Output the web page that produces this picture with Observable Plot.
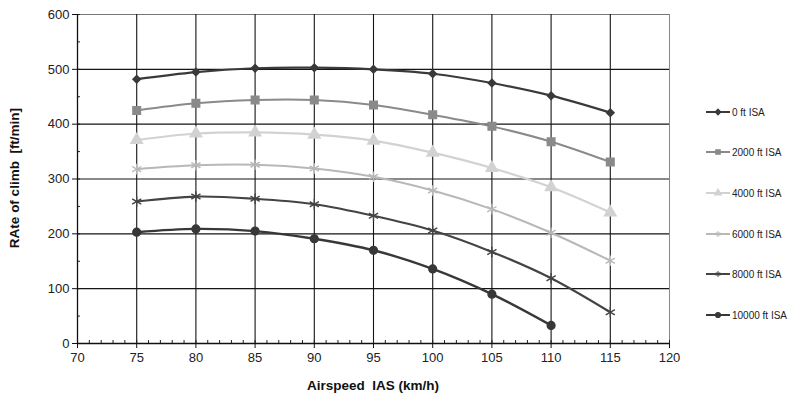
<!DOCTYPE html>
<html>
<head>
<meta charset="utf-8">
<script src="https://cdn.jsdelivr.net/npm/d3@7"></script>
<script src="https://cdn.jsdelivr.net/npm/@observablehq/plot@0.6"></script>
<style>
  html, body { margin: 0; padding: 0; background: #fff; }
  #wrap { position: relative; width: 797px; height: 400px; font-family: Arial, "Liberation Sans", sans-serif; }
  #legend { position: absolute; left: 706px; top: 0; }
  .entry { position: absolute; left: 0; display: flex; align-items: center; white-space: nowrap; font-size: 10px; color: #222; }
  .entry svg { margin-right: 2px; }
</style>
</head>
<body>
<div id="wrap"><div id="legend"></div></div>
<script>
// ---- data ----
const airspeed = [75, 80, 85, 90, 95, 100, 105, 110, 115];
const seriesNames = ["0 ft ISA", "2000 ft ISA", "4000 ft ISA", "6000 ft ISA", "8000 ft ISA", "10000 ft ISA"];
const alt0     = [482, 495, 502, 503, 500, 492, 475, 452, 421];
const alt2000  = [425, 438, 444, 444, 435, 417, 396, 368, 331];
const alt4000  = [371, 383, 385, 381, 370, 348, 320, 285, 239];
const alt6000  = [318, 325, 326, 319, 304, 279, 245, 202, 151];
const alt8000  = [259, 268, 264, 254, 233, 206, 167, 119, 57];
const alt10000 = [203, 209, 205, 191, 170, 136, 90, 33];
const xTicks = [70, 75, 80, 85, 90, 95, 100, 105, 110, 115, 120];
const yTicks = [0, 100, 200, 300, 400, 500, 600];
const xMinor = d3.range(70, 121, 1);
const yMinor = d3.range(0, 601, 50);

// ---- styling per series ----
const styles = [
  {stroke: "#3a3a3a", fill: "#3a3a3a", symbol: "diamond2", d3sym: d3.symbolDiamond2, r: 3.4, sw: 2.2},
  {stroke: "#8a8a8a", fill: "#8a8a8a", symbol: "square", d3sym: d3.symbolSquare, r: 4.3, sw: 2},
  {stroke: "#d2d2d2", fill: "#d2d2d2", symbol: "triangle", d3sym: d3.symbolTriangle, r: 4.3, sw: 2.2},
  {stroke: "#b8b8b8", fill: "none", symbol: "asterisk", d3sym: d3.symbolAsterisk, r: 5, sw: 2},
  {stroke: "#444444", fill: "none", symbol: "asterisk", d3sym: d3.symbolAsterisk, r: 5, sw: 2.2},
  {stroke: "#383838", fill: "#383838", symbol: "circle", d3sym: d3.symbolCircle, r: 3.9, sw: 2.4}
];
const allSeries = [alt0, alt2000, alt4000, alt6000, alt8000, alt10000];
const table = allSeries.map((vals, i) => vals.map((v, j) => ({series: seriesNames[i], x: airspeed[j], y: v})));

const marks = [
  Plot.ruleY(yTicks.filter(d => d > 0 && d < 600), {stroke: "#151515", strokeWidth: 1.1}),
  Plot.ruleY([600], {stroke: "#777", strokeWidth: 1}),
  Plot.ruleX(xTicks.filter(d => d > 70 && d < 120), {y1: 0, y2: 600, stroke: "#151515", strokeWidth: 1.1}),
  Plot.ruleX([120], {y1: 0, y2: 600, stroke: "#888", strokeWidth: 1}),
  Plot.axisX({ticks: xMinor, tickSize: -3, text: null, label: null, stroke: "#222"}),
  Plot.axisY({ticks: yMinor, tickSize: -3, text: null, label: null, stroke: "#222"}),
  Plot.axisX({ticks: xTicks, tickSize: 5, tickPadding: 4, fontSize: 13, label: null, stroke: "#111", fill: "#222"}),
  Plot.axisY({ticks: yTicks, tickSize: 5, tickPadding: 3, fontSize: 13, label: null, stroke: "#111", fill: "#222"}),
  Plot.ruleY([0], {stroke: "#111", strokeWidth: 1.3}),
  Plot.ruleX([70], {y1: 0, y2: 600, stroke: "#111", strokeWidth: 1.3})
];
table.forEach((rows, i) => {
  const s = styles[i];
  marks.push(Plot.line(rows, {x: "x", y: "y", stroke: s.stroke, strokeWidth: s.sw, curve: "catmull-rom"}));
  marks.push(Plot.dot(rows, {x: "x", y: "y", symbol: s.symbol, r: s.r, fill: s.fill, stroke: s.stroke, strokeWidth: 1.4}));
});

const chart = Plot.plot({
  width: 797,
  height: 400,
  marginLeft: 77,
  marginRight: 128,
  marginTop: 14,
  marginBottom: 57,
  style: {fontFamily: "Arial, 'Liberation Sans', sans-serif", background: "#fff", color: "#222"},
  x: {domain: [70, 120], label: null},
  y: {domain: [0, 600], label: null},
  marks
});

const svgSel = d3.select(chart);
// axis titles as real text
svgSel.append("text")
  .attr("x", 373).attr("y", 390)
  .attr("text-anchor", "middle")
  .attr("font-weight", "bold").attr("font-size", 13.5).attr("fill", "#111")
  .attr("xml:space", "preserve")
  .text("Airspeed  IAS (km/h)");
svgSel.append("text")
  .attr("transform", "translate(19,178) rotate(-90)")
  .attr("text-anchor", "middle")
  .attr("font-weight", "bold").attr("font-size", 13.5).attr("fill", "#111")
  .attr("xml:space", "preserve")
  .text("RAte of climb  [ft/min]");

document.getElementById("wrap").prepend(chart);
chart.style.position = "absolute";
chart.style.left = "0";
chart.style.top = "0";

// legend
const legendTops = [112, 152, 193, 234, 274, 315];
const legend = d3.select("#legend");
seriesNames.forEach((name, i) => {
  const s = styles[i];
  const e = legend.append("div").attr("class", "entry").style("top", (legendTops[i] - 6) + "px");
  const sw = e.append("svg").attr("width", 24).attr("height", 12);
  sw.append("line").attr("x1", 0).attr("x2", 24).attr("y1", 6).attr("y2", 6)
    .attr("stroke", s.stroke).attr("stroke-width", 2);
  sw.append("path")
    .attr("transform", "translate(12,6)")
    .attr("d", d3.symbol(s.d3sym, 20)())
    .attr("fill", s.fill).attr("stroke", s.stroke).attr("stroke-width", 1.2);
  e.append("span").text(name);
});
</script>
</body>
</html>
